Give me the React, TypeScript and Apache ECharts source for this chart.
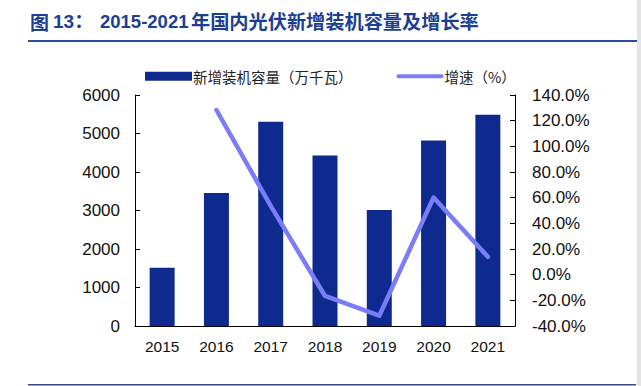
import React, { useEffect, useRef } from "react";
import * as echarts from "echarts";

const years = ["2015", "2016", "2017", "2018", "2019", "2020", "2021"];
const capacity = [1513, 3454, 5306, 4426, 3011, 4820, 5488];
const growth: (number | string)[] = ["-", 128.3, 53.6, -16.6, -32.0, 60.1, 13.9];
const barName = "新增装机容量（万千瓦）";
const lineName = "增速（%）";

export default function App() {
  const ref = useRef<HTMLDivElement>(null);
  useEffect(() => {
    if (!ref.current) return;
    const chart = echarts.init(ref.current, undefined, { renderer: "svg" });
    const font = "'Liberation Sans', Arial, 'Noto Sans CJK SC', sans-serif";
    const cjk = "'Noto Sans CJK SC', sans-serif";
    const titleColor = "#1c3f94";
    const lineColor = "#7b7cf8";
    chart.setOption({
      animation: false,
      textStyle: { fontFamily: font },
      graphic: [
        { type: "text", left: 30, top: 12, style: { text: "图", fontSize: 19, fontWeight: "bold", fill: titleColor, fontFamily: cjk } },
        { type: "text", left: 53, top: 12, style: { text: "13：", fontSize: 19, fontWeight: "bold", fill: titleColor, fontFamily: font } },
        { type: "text", left: 100, top: 12, style: { text: "2015-2021", fontSize: 18.5, fontWeight: "bold", fill: titleColor, fontFamily: font } },
        { type: "text", left: 191, top: 11, style: { text: "年国内光伏新增装机容量及增长率", fontSize: 19.2, fontWeight: "bold", fill: titleColor, fontFamily: cjk } },
        { type: "rect", shape: { x: 28, y: 40, width: 610, height: 2 }, style: { fill: "#2a4a9a" } },
        { type: "rect", shape: { x: 28, y: 384, width: 608, height: 1.5 }, style: { fill: "#3a4a80" } },
        { type: "rect", shape: { x: 637, y: 0, width: 4, height: 386 }, style: { fill: "#e4e4e4" } },
      ],
      legend: {
        top: 64,
        left: 140,
        itemGap: 44,
        itemWidth: 47,
        itemHeight: 9,
        symbolKeepAspect: true,
        textStyle: { fontSize: 14.5, color: "#222", fontFamily: cjk, padding: [0, 0, 0, -4] },
        data: [
          { name: barName, icon: "rect" },
          { name: lineName, icon: "path://M2,0H45A2,2 0 0 1 45,4H2A2,2 0 0 1 2,0Z", itemStyle: { color: lineColor } },
        ],
      },
      grid: { left: 135, right: 126, top: 95, bottom: 60, containLabel: false },
      xAxis: {
        type: "category",
        data: years,
        boundaryGap: true,
        axisLine: { lineStyle: { color: "#000", width: 1 } },
        axisTick: { inside: true, length: 5, lineStyle: { color: "#000" } },
        axisLabel: { color: "#111", fontSize: 15.5, margin: 13, fontFamily: font },
      },
      yAxis: [
        {
          type: "value",
          min: 0,
          max: 6000,
          interval: 1000,
          axisLine: { show: true, lineStyle: { color: "#000", width: 1 } },
          axisTick: { show: true, inside: true, length: 5, lineStyle: { color: "#000" } },
          axisLabel: { color: "#111", fontSize: 17, margin: 15, fontFamily: font, formatter: (v: number) => String(v) },
          splitLine: { show: false },
        },
        {
          type: "value",
          min: -40,
          max: 140,
          interval: 20,
          position: "right",
          axisLine: { show: true, lineStyle: { color: "#000", width: 1 } },
          axisTick: { show: true, inside: true, length: 5, lineStyle: { color: "#000" } },
          axisLabel: { color: "#111", fontSize: 17, margin: 17, fontFamily: font, formatter: (v: number) => v.toFixed(1) + "%" },
          splitLine: { show: false },
        },
      ],
      series: [
        {
          name: barName,
          type: "bar",
          data: capacity,
          barWidth: 25,
          itemStyle: { color: "#0e2a8f" },
        },
        {
          name: lineName,
          type: "line",
          yAxisIndex: 1,
          data: growth,
          symbol: "none",
          lineStyle: { color: lineColor, width: 4.5, cap: "round", join: "round" },
          itemStyle: { color: lineColor },
        },
      ],
    });
    return () => chart.dispose();
  }, []);
  return (
    <div
      ref={ref}
      style={{ position: "fixed", left: 0, top: 0, width: 641, height: 386, background: "#fff" }}
    />
  );
}
